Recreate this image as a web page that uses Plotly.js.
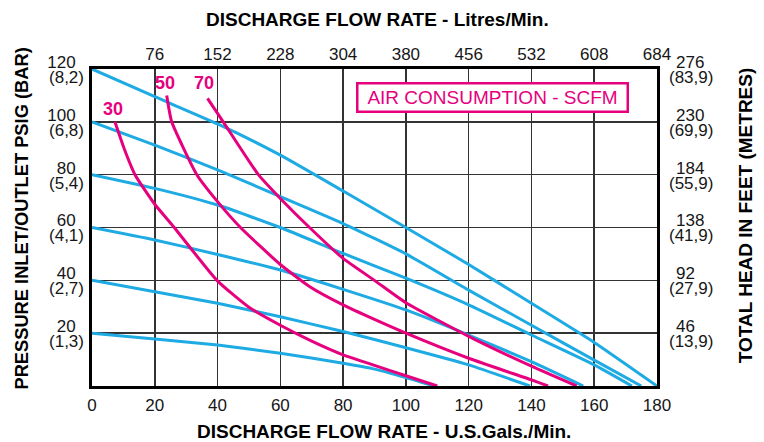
<!DOCTYPE html>
<html><head><meta charset="utf-8">
<script src="https://cdn.plot.ly/plotly-3.0.1.min.js"></script>
<style>html,body{margin:0;padding:0;background:#fff}#chart{width:764px;height:442px}</style>
</head><body><div id="chart"></div>
<script>
// ---- axis ticks ----
const gpmTicks = [0, 20, 40, 60, 80, 100, 120, 140, 160, 180];
const gpmLabels = ['0', '20', '40', '60', '80', '100', '120', '140', '160', '180'];
const lpmTicks = [20, 40, 60, 80, 100, 120, 140, 160, 180];
const lpmLabels = ['76', '152', '228', '304', '380', '456', '532', '608', '684'];
const psiTicks = [20, 40, 60, 80, 100, 120];
const psiLabels = ['20', '40', '60', '80', '100', '120'];
const barLabels = ['(1,3)', '(2,7)', '(4,1)', '(5,4)', '(6,8)', '(8,2)'];
const feetLabels = ['46', '92', '138', '184', '230', '276'];
const metreLabels = ['(13,9)', '(27,9)', '(41,9)', '(55,9)', '(69,9)', '(83,9)'];

// ---- axis titles ----
const titleBottom = 'DISCHARGE FLOW RATE - U.S.Gals./Min.';
const titleTop = 'DISCHARGE FLOW RATE - Litres/Min.';
const titleLeft = 'PRESSURE INLET/OUTLET PSIG (BAR)';
const titleRight = 'TOTAL HEAD IN FEET (METRES)';

// ---- pressure curves (psig) : flow (US gpm) vs pressure ----
const p120x = [0, 20, 40, 60, 80, 100, 120, 140, 160, 180];
const p120y = [120, 109.5, 99.2, 87.4, 73.8, 60, 46, 31.3, 16.5, 0];
const p100x = [0, 20, 40, 60, 80, 100, 120, 140, 160, 175];
const p100y = [100, 91.2, 81.8, 71.7, 61.5, 50, 36.3, 23, 9.8, 0];
const p80x = [0, 20, 40, 60, 80, 100, 120, 140, 160, 172];
const p80y = [80, 74.8, 68.5, 60, 50.2, 40.8, 30.7, 19.3, 8, 0];
const p60x = [0, 20, 40, 60, 80, 100, 120, 140, 156.5];
const p60y = [60, 55.3, 49.8, 43.9, 36.6, 28.8, 19.3, 9.2, 0];
const p40x = [0, 20, 40, 60, 80, 100, 120, 139.5];
const p40y = [40, 35.7, 31.3, 26.2, 20.6, 14.5, 8, 0];
const p20x = [0, 20, 40, 60, 80, 90, 100, 109];
const p20y = [20, 17.8, 15.5, 12.4, 8.6, 6.4, 3.2, 0];

// ---- air consumption curves (SCFM) ----
const s30x = [7.3, 10.2, 13.7, 20, 26, 39.8, 50, 60, 70, 80, 90, 100, 110];
const s30y = [100, 90, 80, 68.8, 60.3, 40, 29.8, 23, 17, 11.8, 7.8, 3.9, 0];
const s50x = [23.8, 25.4, 33.4, 40, 47.3, 60, 69.4, 80, 90, 100, 120, 140, 145.3];
const s50y = [110, 100, 80, 69.8, 60, 46, 37.6, 30.7, 25.2, 20, 10.5, 2.3, 0];
const s70x = [36.8, 41.8, 53, 60, 69.3, 80, 90.2, 100, 120, 140, 154.4];
const s70y = [108.9, 100, 80, 71, 60, 48.3, 39.8, 31.5, 18.8, 7.5, 0];

const scfmNames = ['30', '50', '70'];
const legendText = 'AIR CONSUMPTION - SCFM';

const BLUE = '#1EAAE3', PINK = '#E6007E';
const FONT = 'Liberation Sans, Arial, Helvetica, sans-serif';

function line(x, y, color, name) {
  return {x: x, y: y, type: 'scatter', mode: 'lines', name: name,
    line: {color: color, width: 3, shape: 'spline', smoothing: 0.5},
    xaxis: 'x', yaxis: 'y', hoverinfo: 'skip', showlegend: false};
}
const traces = [
  line(p120x, p120y, BLUE, '120 psig'), line(p100x, p100y, BLUE, '100 psig'),
  line(p80x, p80y, BLUE, '80 psig'), line(p60x, p60y, BLUE, '60 psig'),
  line(p40x, p40y, BLUE, '40 psig'), line(p20x, p20y, BLUE, '20 psig'),
  line(s30x, s30y, PINK, '30 SCFM'), line(s50x, s50y, PINK, '50 SCFM'),
  line(s70x, s70y, PINK, '70 SCFM'),
  // invisible helpers so overlay axes render
  {x: [0], y: [0], xaxis: 'x2', yaxis: 'y2', mode: 'markers', marker: {opacity: 0}, showlegend: false, hoverinfo: 'skip'},
  {x: [0], y: [0], xaxis: 'x', yaxis: 'y3', mode: 'markers', marker: {opacity: 0}, showlegend: false, hoverinfo: 'skip'},
  {x: [0], y: [0], xaxis: 'x', yaxis: 'y4', mode: 'markers', marker: {opacity: 0}, showlegend: false, hoverinfo: 'skip'}
];

const tickFont = {family: FONT, size: 17, color: '#161616'};
const titleFont = {family: FONT, size: 19, color: '#000', weight: 'bold'};

const layout = {
  width: 764, height: 442,
  margin: {l: 92, r: 107, t: 69, b: 56, pad: 0},
  paper_bgcolor: '#fff', plot_bgcolor: '#fff',
  showlegend: false,
  xaxis: {
    range: [0, 180], tickvals: gpmTicks, ticktext: gpmLabels, ticks: '',
    showgrid: true, gridcolor: '#333', gridwidth: 1.6, zeroline: false,
    showline: true, mirror: true, linecolor: '#000', linewidth: 3,
    tickfont: tickFont, ticklabelstandoff: 2,
    automargin: false, fixedrange: true
  },
  xaxis2: {
    range: [0, 180], overlaying: 'x', side: 'top', anchor: 'y',
    tickvals: lpmTicks, ticktext: lpmLabels, ticks: '', showgrid: false, zeroline: false,
    showline: false, tickfont: tickFont, ticklabelstandoff: 5,
    automargin: false, fixedrange: true
  },
  yaxis: {
    range: [0, 120], tickvals: psiTicks, ticktext: psiLabels, ticks: '',
    showgrid: true, gridcolor: '#333', gridwidth: 1.6, zeroline: false,
    showline: true, mirror: true, linecolor: '#000', linewidth: 3,
    tickfont: tickFont, ticklabelshift: -7, ticklabelstandoff: 10,
    automargin: false, fixedrange: true
  },
  yaxis3: {
    range: [0, 120], overlaying: 'y', side: 'left', anchor: 'x',
    tickvals: psiTicks, ticktext: barLabels, ticks: '', showgrid: false, zeroline: false,
    showline: false, tickfont: tickFont, ticklabelshift: 8, ticklabelstandoff: 7,
    automargin: false, fixedrange: true
  },
  yaxis2: {
    range: [0, 120], overlaying: 'y', side: 'right', anchor: 'x',
    tickvals: psiTicks, ticktext: feetLabels, ticks: '', showgrid: false, zeroline: false,
    showline: false, tickfont: tickFont, ticklabelshift: -7, ticklabelstandoff: 18,
    automargin: false, fixedrange: true
  },
  yaxis4: {
    range: [0, 120], overlaying: 'y', side: 'right', anchor: 'x',
    tickvals: psiTicks, ticktext: metreLabels, ticks: '', showgrid: false, zeroline: false,
    showline: false, tickfont: tickFont, ticklabelshift: 8, ticklabelstandoff: 11,
    automargin: false, fixedrange: true
  },
  annotations: [
    {x: 0.517, y: -0.145, xref: 'paper', yref: 'paper', text: titleBottom, showarrow: false,
     font: titleFont, xanchor: 'center', yanchor: 'middle'},
    {x: 0.506, y: 1.155, xref: 'paper', yref: 'paper', text: titleTop, showarrow: false,
     font: titleFont, xanchor: 'center', yanchor: 'middle'},
    {x: -0.124, y: 0.528, xref: 'paper', yref: 'paper', text: titleLeft, showarrow: false, textangle: -90,
     font: {family: FONT, size: 18.3, color: '#000', weight: 'bold'}, xanchor: 'center', yanchor: 'middle'},
    {x: 1.156, y: 0.539, xref: 'paper', yref: 'paper', text: titleRight, showarrow: false, textangle: -90,
     font: titleFont, xanchor: 'center', yanchor: 'middle'},
    {x: 6.7, y: 104.8, xref: 'x', yref: 'y', text: '<b>' + scfmNames[0] + '</b>', showarrow: false,
     font: {family: FONT, size: 18, color: PINK}},
    {x: 23.2, y: 114.6, xref: 'x', yref: 'y', text: '<b>' + scfmNames[1] + '</b>', showarrow: false,
     font: {family: FONT, size: 18, color: PINK}},
    {x: 35.8, y: 114.6, xref: 'x', yref: 'y', text: '<b>' + scfmNames[2] + '</b>', showarrow: false,
     font: {family: FONT, size: 18, color: PINK}},
    {x: 127.7, y: 109.3, xref: 'x', yref: 'y', text: legendText, showarrow: false,
     font: {family: FONT, size: 19, color: PINK}, bgcolor: '#fff',
     bordercolor: PINK, borderwidth: 2.5, borderpad: 1, width: 266, height: 24}
  ]
};

Plotly.newPlot('chart', traces, layout, {staticPlot: true, displayModeBar: false});
</script>
</body></html>
